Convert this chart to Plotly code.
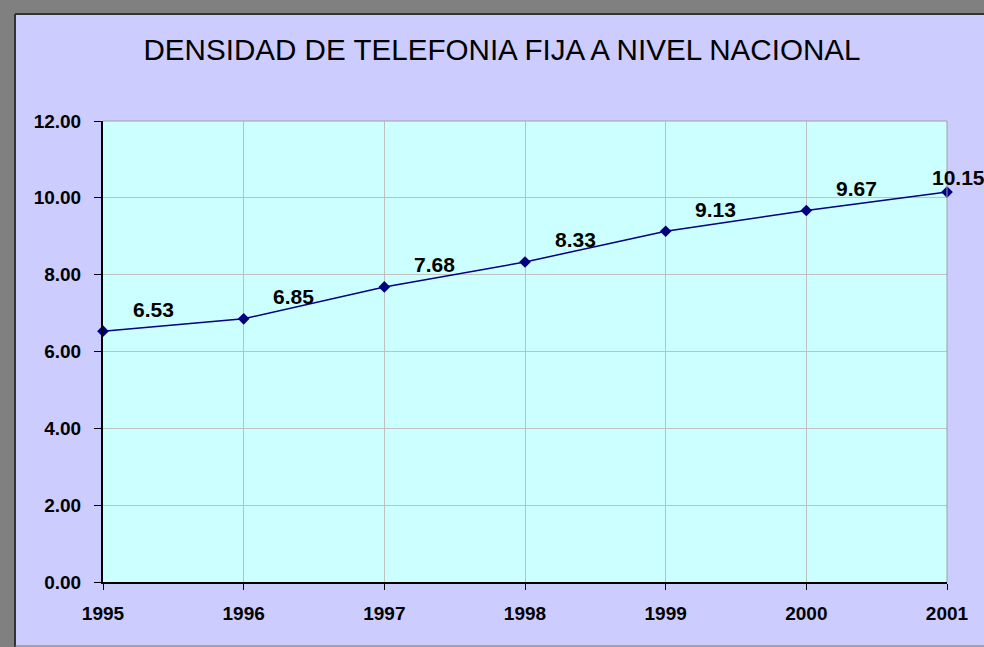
import plotly.graph_objects as go

years = [1995, 1996, 1997, 1998, 1999, 2000, 2001]
densidad = [6.53, 6.85, 7.68, 8.33, 9.13, 9.67, 10.15]
y_ticks = [0, 2, 4, 6, 8, 10, 12]
y_labels = ['0.00', '2.00', '4.00', '6.00', '8.00', '10.00', '12.00']
title_text = 'DENSIDAD DE TELEFONIA FIJA A NIVEL NACIONAL'

W, H = 984, 647
L, R, T, B = 103, 37, 121, 65
pw, ph = W - L - R, H - T - B

def px(x):
    return (x - L) / pw

def py(y):
    return (H - B - y) / ph

font_fam = 'Liberation Sans, Arial'
lab_font = dict(family=font_fam, size=21, color='black', weight='bold')

fig = go.Figure()
fig.add_trace(go.Scatter(x=years, y=densidad, mode='lines+markers',
                         line=dict(color='#000080', width=1.5),
                         marker=dict(symbol='diamond', size=9, color='#000080'),
                         cliponaxis=False, showlegend=False))

# data labels, Excel puts them up and to the right
for i, (x, v) in enumerate(zip(years, densidad)):
    last = i == len(years) - 1
    fig.add_annotation(x=x, y=v, text='%.2f' % v, showarrow=False,
                       xshift=11 if last else 50, yshift=15 if last else 22,
                       font=lab_font)

# grey window frame on the top and left
frame = [
    dict(x0=px(0), x1=px(15), y0=py(0), y1=py(H)),
    dict(x0=px(0), x1=px(W), y0=py(0), y1=py(14)),
]
for f in frame:
    fig.add_shape(type='rect', xref='paper', yref='paper', line_width=0,
                  fillcolor='#808080', layer='above', **f)
fig.add_shape(type='line', xref='paper', yref='paper', x0=px(15), x1=px(15),
              y0=py(14), y1=py(H), line=dict(color='#333333', width=2))
fig.add_shape(type='line', xref='paper', yref='paper', x0=px(15), x1=px(W),
              y0=py(14), y1=py(14), line=dict(color='#333333', width=2))
fig.add_shape(type='line', xref='paper', yref='paper', x0=px(15), x1=px(W),
              y0=py(646), y1=py(646), line=dict(color='#777777', width=1))

fig.update_layout(
    width=W, height=H,
    margin=dict(l=L, r=R, t=T, b=B),
    paper_bgcolor='#CCCCFF', plot_bgcolor='#CCFFFF',
    title=dict(text=title_text, x=502 / W, xref='container', xanchor='center',
               y=1 - 50 / H, yanchor='middle',
               font=dict(family=font_fam, size=29.6, color='black')),
    xaxis=dict(range=[1995, 2001], tickvals=years, ticktext=[str(y) for y in years],
               showgrid=True, gridcolor='#C0C0C0', gridwidth=1,
               showline=True, linecolor='black', linewidth=2,
               ticks='outside', ticklen=6, tickcolor='black', tickwidth=1,
               ticklabelstandoff=7, zeroline=False,
               tickfont=dict(lab_font, size=19)),
    yaxis=dict(range=[0, 12], tickvals=y_ticks, ticktext=y_labels,
               showgrid=True, gridcolor='#C0C0C0', gridwidth=1,
               showline=True, linecolor='black', linewidth=2,
               ticks='outside', ticklen=7, tickcolor='black', tickwidth=1,
               ticklabelstandoff=9, zeroline=False,
               tickfont=dict(lab_font, size=19)),
)
# top and right border of the plot area
fig.add_shape(type='line', xref='paper', yref='paper', x0=0, x1=1, y0=1, y1=1,
              line=dict(color='#A0A0A0', width=1))
fig.add_shape(type='line', xref='paper', yref='paper', x0=1, x1=1, y0=0, y1=1,
              line=dict(color='#A0A0A0', width=1))

fig.write_html('out.html', config={'displayModeBar': False},
               post_script="document.body.style.margin='0';document.body.style.overflow='hidden';")
